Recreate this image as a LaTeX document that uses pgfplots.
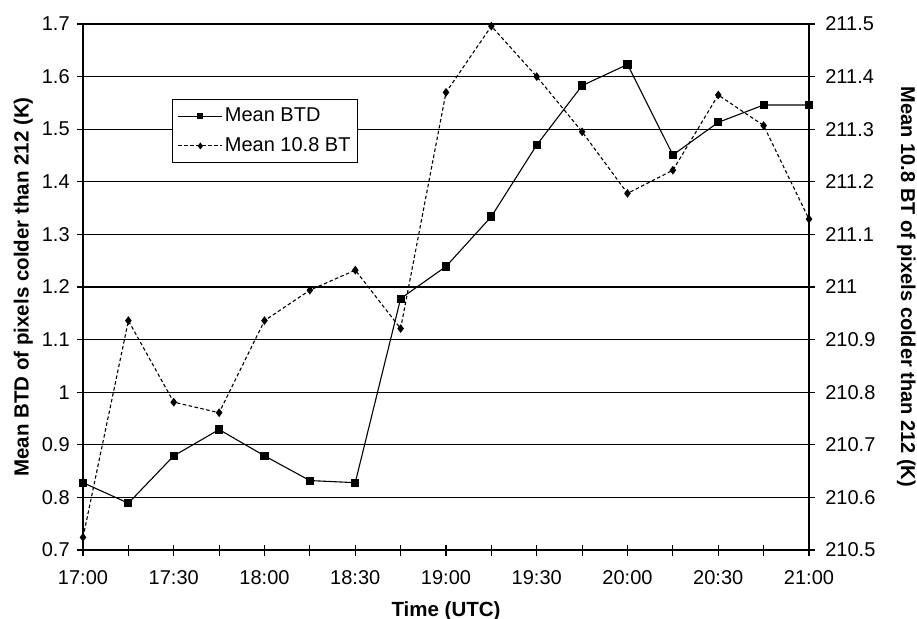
\documentclass[border=0pt]{standalone}
\usepackage{fontspec}
\setmainfont{Liberation Sans}
\usepackage{pgfplots}
\pgfplotsset{compat=1.18}

\begin{document}
\fontsize{20bp}{24bp}\selectfont
\begin{tikzpicture}

\pgfplotsset{
  every axis/.append style={
    scale only axis,
    width=726bp, height=526bp,
    xmin=0, xmax=16,
    tick align=center,
    major tick length=11bp,
    tick style={black, line width=1.1bp},
    axis line style={black, line width=1.1bp, -},
    /pgf/number format/assume math mode=true,
    label style={font=\fontsize{20.5bp}{24bp}\selectfont, inner sep=1bp},
  },
}

\begin{axis}[
  ymin=0.7, ymax=1.7,
  xtick={0,...,16},
  xticklabels={17:00,,17:30,,18:00,,18:30,,19:00,,19:30,,20:00,,20:30,,21:00},
  ytick={0.7,0.8,0.9,1,1.1,1.2,1.3,1.4,1.5,1.6,1.7},
  yticklabels={0.7,0.8,0.9,1,1.1,1.2,1.3,1.4,1.5,1.6,1.7},
  xtick pos=bottom, ytick pos=left,
  xticklabel style={yshift=-8bp},
  yticklabel style={xshift=-1bp},
  ymajorgrids,
  grid style={black, line width=1.1bp},
  xlabel={\bfseries Time (UTC)},
  ylabel={\bfseries Mean BTD of pixels colder than 212 (K)},
  xlabel style={yshift=-9bp},
  ylabel style={yshift=1bp},
  legend style={at={(0.123,0.857)}, anchor=north west, draw=black,
    line width=1bp, fill=white, inner xsep=5bp, inner ysep=6bp, row sep=9bp,
    font=\fontsize{20bp}{24bp}\selectfont},
  legend cell align=left,
  legend image code/.code={
    \draw[#1, mark size=2.6bp, mark repeat=2, mark phase=2]
      plot coordinates {(0bp,0bp) (22bp,0bp) (44bp,0bp)};
  },
]
\coordinate (ll) at (rel axis cs:0,0);
\coordinate (ur) at (rel axis cs:1,1);

% mean BTD (left axis)
\addplot [black, line width=1.1bp, mark=square*, mark size=3.5bp,
  mark options={solid}] table {
0  0.828
1  0.789
2  0.879
3  0.929
4  0.879
5  0.832
6  0.828
7  1.178
8  1.239
9  1.334
10 1.470
11 1.583
12 1.623
13 1.451
14 1.513
15 1.546
16 1.546
};
\addlegendentry{Mean BTD}
\addlegendimage{black, line width=1.1bp, dash pattern=on 3.5bp off 2.5bp,
  mark=diamond*, mark size=3.5bp, mark options={solid}}
\addlegendentry{Mean 10.8 BT}
\end{axis}

\begin{axis}[
  ymin=210.5, ymax=211.5,
  axis x line=none,
  axis y line=right,
  every outer y axis line/.append style={-},
  every inner y axis line/.append style={-},
  ytick={210.5,210.6,210.7,210.8,210.9,211,211.1,211.2,211.3,211.4,211.5},
  yticklabels={210.5,210.6,210.7,210.8,210.9,211,211.1,211.2,211.3,211.4,211.5},
  yticklabel style={xshift=4bp},
  ylabel={\bfseries Mean 10.8 BT of pixels colder than 212 (K)},
  ylabel style={rotate=180, yshift=8bp},
]
% mean 10.8 BT (right axis)
\addplot [black, line width=1.1bp, dash pattern=on 3.5bp off 2.5bp,
  mark=diamond*, mark size=3.5bp, mark options={solid}] table {
0  210.524
1  210.936
2  210.781
3  210.761
4  210.936
5  210.994
6  211.032
7  210.921
8  211.370
9  211.496
10 211.400
11 211.295
12 211.178
13 211.222
14 211.365
15 211.307
16 211.129
};
\end{axis}

\pgfresetboundingbox
\path[use as bounding box] ([xshift=-83bp,yshift=-69bp]ll)
  rectangle ([xshift=108bp,yshift=24bp]ur);
\end{tikzpicture}
\end{document}
